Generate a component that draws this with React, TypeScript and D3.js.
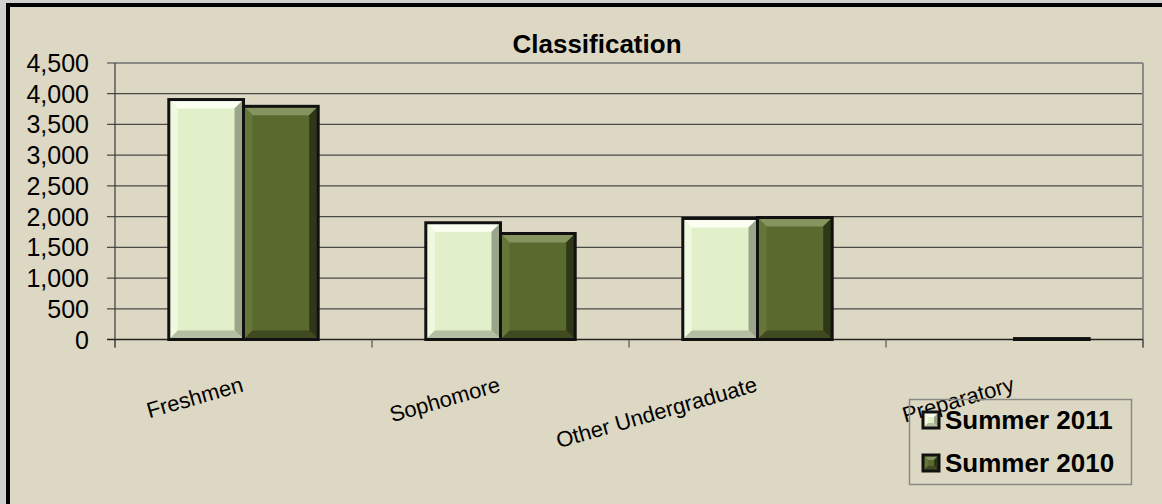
import * as d3 from "d3";

const categories = ["Freshmen", "Sophomore", "Other Undergraduate", "Preparatory"];
const seriesNames = ["Summer 2011", "Summer 2010"];
const summer2011 = [3905, 1900, 1970, 0];
const summer2010 = [3795, 1725, 1985, 15];
const yTicks = [0, 500, 1000, 1500, 2000, 2500, 3000, 3500, 4000, 4500];

const W = 1162;
const H = 504;
const bg = "#ddd8c3";
const font = "'Liberation Sans', Arial, sans-serif";

const barStyle: Record<string, any> = {
  "Summer 2011": { fill: "#e2f0c9", top: "#fbfff2", left: "#f0f8e0", right: "#9ba58a", bottom: "#b5bea3" },
  "Summer 2010": { fill: "#5a6a2f", top: "#869560", left: "#667638", right: "#2e3818", bottom: "#3f4a20" },
};

// bar with a bevel look, like the excel "cool slant" style
function Bevel({ x, y, w, h, s, b0 = 9 }: any) {
  const b = Math.min(b0, h / 2, w / 2);
  return (
    <g>
      <rect x={x} y={y} width={w} height={h} fill={s.fill} />
      <polygon points={`${x},${y} ${x + w},${y} ${x + w - b},${y + b} ${x + b},${y + b}`} fill={s.top} />
      <polygon points={`${x},${y} ${x + b},${y + b} ${x + b},${y + h - b} ${x},${y + h}`} fill={s.left} />
      <polygon points={`${x + w},${y} ${x + w},${y + h} ${x + w - b},${y + h - b} ${x + w - b},${y + b}`} fill={s.right} />
      <polygon points={`${x},${y + h} ${x + w},${y + h} ${x + w - b},${y + h - b} ${x + b},${y + h - b}`} fill={s.bottom} />
      <rect x={x} y={y} width={w} height={h} fill="none" stroke="#111" strokeWidth={3} />
    </g>
  );
}

export default function App() {
  const left = 115;
  const right = 1143;
  const top = 63;
  const bottom = 339.5;

  const x0 = d3.scaleBand().domain(categories).range([left, right]).padding(0);
  const x1 = d3.scaleBand().domain(seriesNames).range([0, x0.bandwidth()]).paddingInner(0).paddingOuter(0.72);
  const y = d3.scaleLinear().domain([0, 4500]).range([bottom, top]);

  const values: Record<string, number[]> = {
    "Summer 2011": summer2011,
    "Summer 2010": summer2010,
  };

  const boundaries = [left, ...categories.map((c) => (x0(c) as number) + x0.bandwidth())];

  return (
    <svg width={W} height={H} style={{ position: "absolute", left: 0, top: 0, display: "block" }}>
      <rect x={0} y={0} width={W} height={H} fill="#d0d0d0" />
      <rect x={8} y={5} width={W + 20} height={H + 20} fill={bg} stroke="#000" strokeWidth={4} />

      <text x={597} y={53} textAnchor="middle" fontFamily={font} fontWeight="bold" fontSize={26} fill="#000">
        Classification
      </text>

      {/* gridlines */}
      {yTicks.map((t) => (
        <g key={t}>
          <line x1={left - 8} x2={right} y1={y(t)} y2={y(t)} stroke={t === 4500 ? "#8a8a86" : "#4a4a48"} strokeWidth={t === 4500 ? 2 : 1.2} />
          <text x={89} y={y(t)} dy="0.36em" textAnchor="end" fontFamily={font} fontSize={25} fill="#000">
            {d3.format(",")(t)}
          </text>
        </g>
      ))}

      {/* plot frame */}
      <line x1={right} x2={right} y1={top} y2={bottom + 8} stroke="#8a8a86" strokeWidth={2} />
      <line x1={left} x2={left} y1={top} y2={bottom + 8} stroke="#3a3a38" strokeWidth={1.2} />
      <line x1={left - 8} x2={right} y1={bottom} y2={bottom} stroke="#222" strokeWidth={1.5} />
      {boundaries.map((bx, i) => (
        <line key={i} x1={bx} x2={bx} y1={bottom} y2={bottom + 8} stroke="#555" strokeWidth={1.2} />
      ))}

      {/* bars */}
      {categories.map((c, i) => (
        <g key={c}>
          {seriesNames.map((s) => {
            const v = values[s][i];
            if (!v) return null;
            const bx = (x0(c) as number) + (x1(s) as number);
            return <Bevel key={s} x={bx} y={y(v)} w={x1.bandwidth()} h={bottom - y(v)} s={barStyle[s]} />;
          })}
        </g>
      ))}

      {/* category labels */}
      {categories.map((c) => (
        <text
          key={c}
          transform={`translate(${(x0(c) as number) + x0.bandwidth() / 2 + 1}, 391) rotate(-16)`}
          textAnchor="end"
          fontFamily={font}
          fontSize={22}
          fill="#000"
        >
          {c}
        </text>
      ))}

      {/* legend */}
      <rect x={909.5} y={399.5} width={222} height={85} fill="none" stroke="#8a8a86" strokeWidth={1.5} />
      {seriesNames.map((s, i) => (
        <g key={s} transform={`translate(923, ${412 + i * 43})`}>
          <Bevel x={0} y={0} w={16} h={16} s={barStyle[s]} b0={5} />
          <text x={22} y={17} fontFamily={font} fontWeight="bold" fontSize={26} fill="#000">
            {s}
          </text>
        </g>
      ))}
    </svg>
  );
}
